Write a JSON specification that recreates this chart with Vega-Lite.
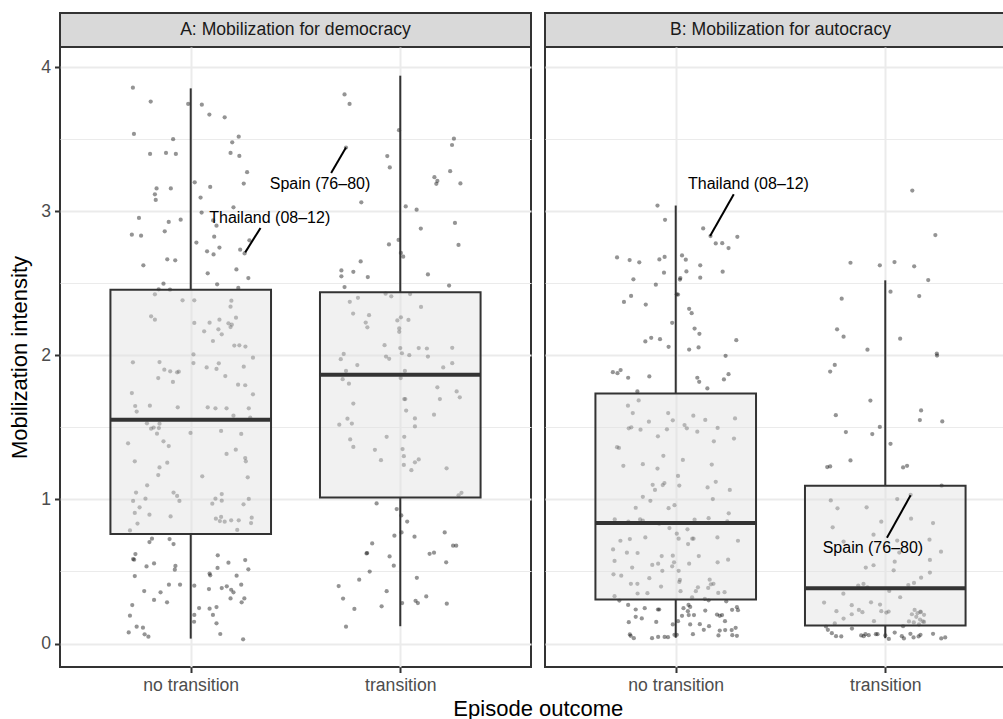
{
  "$schema": "https://vega.github.io/schema/vega-lite/v6.json",
  "background": "white",
  "padding": {"left": 7, "top": 12, "right": 0, "bottom": 0},
  "autosize": {"type": "pad"},
  "title": {
    "text": "Episode outcome",
    "orient": "bottom",
    "anchor": "middle",
    "dx": 26,
    "font": "Liberation Sans",
    "fontSize": 22,
    "fontWeight": "normal",
    "color": "black",
    "offset": 4
  },
  "datasets": {
    "strips": [
      {"panel": "A", "label": "A: Mobilization for democracy"},
      {"panel": "B", "label": "B: Mobilization for autocracy"}
    ],
    "boxes": [
      {"panel": "A", "x": 1, "lower": 0.034, "q1": 0.760, "median": 1.553, "q3": 2.455, "upper": 3.852},
      {"panel": "A", "x": 2, "lower": 0.120, "q1": 1.013, "median": 1.865, "q3": 2.437, "upper": 3.940},
      {"panel": "B", "x": 1, "lower": 0.040, "q1": 0.305, "median": 0.836, "q3": 1.735, "upper": 3.039},
      {"panel": "B", "x": 2, "lower": 0.037, "q1": 0.125, "median": 0.383, "q3": 1.095, "upper": 2.520}
    ],
    "labels": [
      {"panel": "A", "label": "Thailand (08–12)", "tx": 1.377, "ty": 2.953, "lx": 1.333, "ly": 2.883, "px": 1.260, "py": 2.714},
      {"panel": "A", "label": "Spain (76–80)", "tx": 1.617, "ty": 3.187, "lx": 1.670, "ly": 3.264, "px": 1.741, "py": 3.441},
      {"panel": "B", "label": "Thailand (08–12)", "tx": 1.347, "ty": 3.185, "lx": 1.277, "ly": 3.117, "px": 1.164, "py": 2.828},
      {"panel": "B", "label": "Spain (76–80)", "tx": 1.941, "ty": 0.665, "lx": 2.008, "ly": 0.734, "px": 2.121, "py": 1.028}
    ],
    "points": [
      {"panel":"A","x":0.724,"y":3.857},{"panel":"A","x":0.809,"y":3.760},{"panel":"A","x":0.988,"y":3.744},{"panel":"A","x":1.053,"y":3.739},
      {"panel":"A","x":1.089,"y":3.670},{"panel":"A","x":1.162,"y":3.651},{"panel":"A","x":0.729,"y":3.536},{"panel":"A","x":0.916,"y":3.499},
      {"panel":"A","x":1.229,"y":3.517},{"panel":"A","x":1.198,"y":3.478},{"panel":"A","x":0.806,"y":3.397},{"panel":"A","x":0.882,"y":3.404},
      {"panel":"A","x":0.929,"y":3.397},{"panel":"A","x":1.190,"y":3.404},{"panel":"A","x":1.232,"y":3.383},{"panel":"A","x":1.269,"y":3.270},
      {"panel":"A","x":1.253,"y":3.191},{"panel":"A","x":1.019,"y":3.200},{"panel":"A","x":1.093,"y":3.168},{"panel":"A","x":0.837,"y":3.158},
      {"panel":"A","x":0.905,"y":3.158},{"panel":"A","x":0.829,"y":3.117},{"panel":"A","x":0.833,"y":3.078},{"panel":"A","x":1.047,"y":3.094},
      {"panel":"A","x":1.204,"y":3.027},{"panel":"A","x":1.052,"y":2.990},{"panel":"A","x":0.753,"y":2.953},{"panel":"A","x":0.895,"y":2.925},
      {"panel":"A","x":0.952,"y":2.941},{"panel":"A","x":1.107,"y":2.936},{"panel":"A","x":1.123,"y":2.899},{"panel":"A","x":0.719,"y":2.837},
      {"panel":"A","x":0.763,"y":2.830},{"panel":"A","x":0.876,"y":2.860},{"panel":"A","x":1.112,"y":2.823},{"panel":"A","x":1.027,"y":2.782},
      {"panel":"A","x":1.280,"y":2.798},{"panel":"A","x":1.137,"y":2.747},{"panel":"A","x":1.078,"y":2.721},{"panel":"A","x":1.109,"y":2.700},
      {"panel":"A","x":1.236,"y":2.733},{"panel":"A","x":1.257,"y":2.707},{"panel":"A","x":0.774,"y":2.624},{"panel":"A","x":0.888,"y":2.666},
      {"panel":"A","x":0.926,"y":2.659},{"panel":"A","x":1.081,"y":2.569},{"panel":"A","x":1.218,"y":2.596},{"panel":"A","x":1.275,"y":2.536},
      {"panel":"A","x":0.870,"y":2.497},{"panel":"A","x":1.126,"y":2.492},{"panel":"A","x":1.227,"y":2.467},{"panel":"A","x":0.847,"y":2.458},
      {"panel":"A","x":0.901,"y":2.455},{"panel":"A","x":0.829,"y":2.423},{"panel":"A","x":0.961,"y":2.381},{"panel":"A","x":1.017,"y":2.381},
      {"panel":"A","x":1.194,"y":2.379},{"panel":"A","x":1.190,"y":2.337},{"panel":"A","x":0.811,"y":2.270},{"panel":"A","x":0.829,"y":2.247},
      {"panel":"A","x":1.216,"y":2.261},{"panel":"A","x":1.017,"y":2.224},{"panel":"A","x":1.090,"y":2.226},{"panel":"A","x":1.137,"y":2.247},
      {"panel":"A","x":1.180,"y":2.222},{"panel":"A","x":1.196,"y":2.212},{"panel":"A","x":1.190,"y":2.196},{"panel":"A","x":1.064,"y":2.166},
      {"panel":"A","x":1.132,"y":2.180},{"panel":"A","x":1.148,"y":2.145},{"panel":"A","x":1.106,"y":2.099},{"panel":"A","x":1.208,"y":2.067},
      {"panel":"A","x":1.232,"y":2.069},{"panel":"A","x":1.261,"y":2.060},{"panel":"A","x":1.013,"y":2.006},{"panel":"A","x":1.297,"y":1.983},
      {"panel":"A","x":0.724,"y":1.951},{"panel":"A","x":0.851,"y":1.953},{"panel":"A","x":1.013,"y":1.946},{"panel":"A","x":1.134,"y":1.944},
      {"panel":"A","x":1.076,"y":1.916},{"panel":"A","x":1.123,"y":1.905},{"panel":"A","x":1.253,"y":1.921},{"panel":"A","x":0.874,"y":1.900},
      {"panel":"A","x":0.902,"y":1.889},{"panel":"A","x":0.935,"y":1.882},{"panel":"A","x":0.943,"y":1.886},{"panel":"A","x":0.845,"y":1.842},
      {"panel":"A","x":0.915,"y":1.815},{"panel":"A","x":1.165,"y":1.856},{"panel":"A","x":1.226,"y":1.796},{"panel":"A","x":1.260,"y":1.792},
      {"panel":"A","x":1.297,"y":1.729},{"panel":"A","x":0.719,"y":1.738},{"panel":"A","x":0.735,"y":1.648},{"panel":"A","x":0.742,"y":1.609},
      {"panel":"A","x":0.805,"y":1.650},{"panel":"A","x":0.938,"y":1.639},{"panel":"A","x":1.081,"y":1.639},{"panel":"A","x":1.118,"y":1.632},
      {"panel":"A","x":1.171,"y":1.632},{"panel":"A","x":1.277,"y":1.632},{"panel":"A","x":1.204,"y":1.581},{"panel":"A","x":1.284,"y":1.567},
      {"panel":"A","x":0.791,"y":1.528},{"panel":"A","x":0.811,"y":1.491},{"panel":"A","x":0.823,"y":1.498},{"panel":"A","x":0.851,"y":1.525},
      {"panel":"A","x":0.848,"y":1.495},{"panel":"A","x":0.839,"y":1.456},{"panel":"A","x":0.999,"y":1.461},{"panel":"A","x":1.145,"y":1.475},
      {"panel":"A","x":1.241,"y":1.454},{"panel":"A","x":0.701,"y":1.389},{"panel":"A","x":0.870,"y":1.403},{"panel":"A","x":0.895,"y":1.370},
      {"panel":"A","x":1.171,"y":1.315},{"panel":"A","x":1.215,"y":1.345},{"panel":"A","x":1.260,"y":1.287},{"panel":"A","x":1.263,"y":1.264},
      {"panel":"A","x":0.733,"y":1.264},{"panel":"A","x":0.888,"y":1.255},{"panel":"A","x":0.851,"y":1.222},{"panel":"A","x":0.845,"y":1.169},
      {"panel":"A","x":1.055,"y":1.160},{"panel":"A","x":1.272,"y":1.153},{"panel":"A","x":0.792,"y":1.098},{"panel":"A","x":0.739,"y":1.047},
      {"panel":"A","x":0.918,"y":1.047},{"panel":"A","x":0.935,"y":1.024},{"panel":"A","x":0.946,"y":0.989},{"panel":"A","x":0.725,"y":0.989},
      {"panel":"A","x":0.784,"y":1.005},{"panel":"A","x":0.756,"y":0.945},{"panel":"A","x":0.733,"y":0.906},{"panel":"A","x":0.803,"y":0.894},
      {"panel":"A","x":0.904,"y":0.882},{"panel":"A","x":1.118,"y":1.005},{"panel":"A","x":1.148,"y":1.037},{"panel":"A","x":1.148,"y":0.991},
      {"panel":"A","x":1.103,"y":0.970},{"panel":"A","x":1.252,"y":0.966},{"panel":"A","x":1.277,"y":1.003},{"panel":"A","x":1.120,"y":0.866},
      {"panel":"A","x":1.139,"y":0.850},{"panel":"A","x":1.145,"y":0.878},{"panel":"A","x":1.162,"y":0.845},{"panel":"A","x":1.193,"y":0.855},
      {"panel":"A","x":1.229,"y":0.855},{"panel":"A","x":1.291,"y":0.873},{"panel":"A","x":1.288,"y":0.836},{"panel":"A","x":0.746,"y":0.832},
      {"panel":"A","x":0.710,"y":0.785},{"panel":"A","x":1.222,"y":0.788},{"panel":"A","x":0.803,"y":0.704},{"panel":"A","x":0.815,"y":0.727},
      {"panel":"A","x":0.899,"y":0.725},{"panel":"A","x":0.918,"y":0.690},{"panel":"A","x":0.736,"y":0.621},{"panel":"A","x":0.725,"y":0.586},
      {"panel":"A","x":0.730,"y":0.582},{"panel":"A","x":0.825,"y":0.556},{"panel":"A","x":0.789,"y":0.535},{"panel":"A","x":0.927,"y":0.538},
      {"panel":"A","x":0.924,"y":0.512},{"panel":"A","x":0.733,"y":0.468},{"panel":"A","x":1.129,"y":0.612},{"panel":"A","x":1.180,"y":0.561},
      {"panel":"A","x":1.260,"y":0.579},{"panel":"A","x":1.128,"y":0.524},{"panel":"A","x":1.275,"y":0.515},{"panel":"A","x":1.090,"y":0.485},
      {"panel":"A","x":1.093,"y":0.473},{"panel":"A","x":1.219,"y":0.471},{"panel":"A","x":0.896,"y":0.408},{"panel":"A","x":0.949,"y":0.408},
      {"panel":"A","x":1.017,"y":0.401},{"panel":"A","x":1.087,"y":0.378},{"panel":"A","x":1.148,"y":0.385},{"panel":"A","x":1.172,"y":0.397},
      {"panel":"A","x":1.193,"y":0.373},{"panel":"A","x":1.204,"y":0.355},{"panel":"A","x":1.241,"y":0.408},{"panel":"A","x":0.778,"y":0.364},
      {"panel":"A","x":0.856,"y":0.355},{"panel":"A","x":0.825,"y":0.302},{"panel":"A","x":0.887,"y":0.286},{"panel":"A","x":1.190,"y":0.313},
      {"panel":"A","x":1.256,"y":0.313},{"panel":"A","x":1.243,"y":0.286},{"panel":"A","x":0.721,"y":0.267},{"panel":"A","x":0.710,"y":0.193},
      {"panel":"A","x":1.040,"y":0.246},{"panel":"A","x":1.090,"y":0.242},{"panel":"A","x":1.123,"y":0.253},{"panel":"A","x":1.017,"y":0.198},
      {"panel":"A","x":1.016,"y":0.151},{"panel":"A","x":1.106,"y":0.198},{"panel":"A","x":1.123,"y":0.140},{"panel":"A","x":0.742,"y":0.117},
      {"panel":"A","x":0.772,"y":0.110},{"panel":"A","x":0.704,"y":0.077},{"panel":"A","x":0.780,"y":0.064},{"panel":"A","x":0.798,"y":0.047},
      {"panel":"A","x":1.141,"y":0.066},{"panel":"A","x":1.250,"y":0.029},

      {"panel":"A","x":1.734,"y":3.810},{"panel":"A","x":1.758,"y":3.744},{"panel":"A","x":1.994,"y":3.562},{"panel":"A","x":1.741,"y":3.441},
      {"panel":"A","x":1.938,"y":3.382},{"panel":"A","x":1.950,"y":3.303},{"panel":"A","x":2.256,"y":3.503},{"panel":"A","x":2.247,"y":3.459},
      {"panel":"A","x":2.238,"y":3.277},{"panel":"A","x":2.163,"y":3.236},{"panel":"A","x":2.177,"y":3.210},{"panel":"A","x":2.172,"y":3.190},
      {"panel":"A","x":2.287,"y":3.192},{"panel":"A","x":1.814,"y":3.061},{"panel":"A","x":2.026,"y":3.033},{"panel":"A","x":2.078,"y":3.010},
      {"panel":"A","x":2.098,"y":2.879},{"panel":"A","x":2.261,"y":2.918},{"panel":"A","x":2.278,"y":2.766},{"panel":"A","x":1.946,"y":2.769},
      {"panel":"A","x":1.992,"y":2.800},{"panel":"A","x":2.003,"y":2.710},{"panel":"A","x":2.014,"y":2.684},{"panel":"A","x":1.811,"y":2.651},
      {"panel":"A","x":1.719,"y":2.589},{"panel":"A","x":1.719,"y":2.548},{"panel":"A","x":1.776,"y":2.579},{"panel":"A","x":1.845,"y":2.543},
      {"panel":"A","x":2.132,"y":2.561},{"panel":"A","x":2.233,"y":2.484},{"panel":"A","x":1.734,"y":2.473},{"panel":"A","x":1.930,"y":2.427},
      {"panel":"A","x":1.957,"y":2.409},{"panel":"A","x":2.047,"y":2.425},{"panel":"A","x":1.759,"y":2.371},{"panel":"A","x":1.798,"y":2.399},
      {"panel":"A","x":2.099,"y":2.335},{"panel":"A","x":1.775,"y":2.289},{"panel":"A","x":1.851,"y":2.278},{"panel":"A","x":1.835,"y":2.227},
      {"panel":"A","x":1.843,"y":2.194},{"panel":"A","x":1.986,"y":2.242},{"panel":"A","x":2.003,"y":2.263},{"panel":"A","x":2.039,"y":2.245},
      {"panel":"A","x":1.995,"y":2.186},{"panel":"A","x":1.995,"y":2.163},{"panel":"A","x":1.925,"y":2.070},{"panel":"A","x":2.000,"y":2.050},
      {"panel":"A","x":2.008,"y":2.014},{"panel":"A","x":2.043,"y":2.001},{"panel":"A","x":2.088,"y":2.050},{"panel":"A","x":2.127,"y":2.047},
      {"panel":"A","x":2.132,"y":1.991},{"panel":"A","x":2.248,"y":2.052},{"panel":"A","x":2.248,"y":1.945},{"panel":"A","x":1.932,"y":1.991},
      {"panel":"A","x":1.947,"y":1.975},{"panel":"A","x":1.730,"y":2.009},{"panel":"A","x":1.716,"y":1.973},{"panel":"A","x":1.795,"y":1.932},
      {"panel":"A","x":1.741,"y":1.891},{"panel":"A","x":2.205,"y":1.916},{"panel":"A","x":2.022,"y":1.891},{"panel":"A","x":1.725,"y":1.834},
      {"panel":"A","x":1.755,"y":1.803},{"panel":"A","x":2.002,"y":1.842},{"panel":"A","x":2.177,"y":1.778},{"panel":"A","x":2.269,"y":1.749},
      {"panel":"A","x":2.284,"y":1.708},{"panel":"A","x":2.189,"y":1.696},{"panel":"A","x":2.019,"y":1.696},{"panel":"A","x":2.024,"y":1.696},
      {"panel":"A","x":2.028,"y":1.616},{"panel":"A","x":1.776,"y":1.665},{"panel":"A","x":2.161,"y":1.588},{"panel":"A","x":2.070,"y":1.562},
      {"panel":"A","x":2.070,"y":1.506},{"panel":"A","x":1.748,"y":1.560},{"panel":"A","x":1.769,"y":1.526},{"panel":"A","x":1.709,"y":1.518},
      {"panel":"A","x":1.761,"y":1.416},{"panel":"A","x":1.776,"y":1.364},{"panel":"A","x":1.935,"y":1.434},{"panel":"A","x":2.019,"y":1.434},
      {"panel":"A","x":1.879,"y":1.344},{"panel":"A","x":1.908,"y":1.272},{"panel":"A","x":2.011,"y":1.349},{"panel":"A","x":2.017,"y":1.300},
      {"panel":"A","x":2.017,"y":1.239},{"panel":"A","x":2.070,"y":1.257},{"panel":"A","x":2.088,"y":1.277},{"panel":"A","x":2.053,"y":1.203},
      {"panel":"A","x":2.221,"y":1.216},{"panel":"A","x":2.278,"y":1.028},{"panel":"A","x":2.292,"y":1.046},{"panel":"A","x":1.887,"y":0.972},
      {"panel":"A","x":1.983,"y":0.933},{"panel":"A","x":2.005,"y":0.889},{"panel":"A","x":2.033,"y":0.846},{"panel":"A","x":2.006,"y":0.771},
      {"panel":"A","x":1.972,"y":0.748},{"panel":"A","x":2.068,"y":0.741},{"panel":"A","x":2.212,"y":0.771},{"panel":"A","x":1.866,"y":0.694},
      {"panel":"A","x":1.839,"y":0.625},{"panel":"A","x":1.842,"y":0.628},{"panel":"A","x":1.949,"y":0.604},{"panel":"A","x":1.969,"y":0.540},
      {"panel":"A","x":1.854,"y":0.499},{"panel":"A","x":2.140,"y":0.622},{"panel":"A","x":2.161,"y":0.630},{"panel":"A","x":2.252,"y":0.679},
      {"panel":"A","x":2.267,"y":0.679},{"panel":"A","x":2.219,"y":0.563},{"panel":"A","x":2.079,"y":0.456},{"panel":"A","x":1.706,"y":0.399},
      {"panel":"A","x":1.804,"y":0.443},{"panel":"A","x":1.727,"y":0.312},{"panel":"A","x":1.781,"y":0.240},{"panel":"A","x":1.935,"y":0.363},
      {"panel":"A","x":1.911,"y":0.258},{"panel":"A","x":2.009,"y":0.281},{"panel":"A","x":2.073,"y":0.296},{"panel":"A","x":2.084,"y":0.281},
      {"panel":"A","x":2.124,"y":0.327},{"panel":"A","x":2.222,"y":0.276},{"panel":"A","x":1.741,"y":0.117},

      {"panel":"B","x":0.913,"y":3.039},{"panel":"B","x":0.949,"y":2.940},{"panel":"B","x":1.131,"y":2.880},{"panel":"B","x":1.166,"y":2.827},
      {"panel":"B","x":1.191,"y":2.776},{"panel":"B","x":1.222,"y":2.778},{"panel":"B","x":1.252,"y":2.744},{"panel":"B","x":1.294,"y":2.822},
      {"panel":"B","x":0.720,"y":2.679},{"panel":"B","x":0.780,"y":2.661},{"panel":"B","x":0.826,"y":2.645},{"panel":"B","x":0.922,"y":2.665},
      {"panel":"B","x":0.947,"y":2.682},{"panel":"B","x":1.030,"y":2.693},{"panel":"B","x":1.048,"y":2.663},{"panel":"B","x":1.117,"y":2.624},
      {"panel":"B","x":0.944,"y":2.573},{"panel":"B","x":1.051,"y":2.582},{"panel":"B","x":1.022,"y":2.536},{"panel":"B","x":1.020,"y":2.525},
      {"panel":"B","x":1.117,"y":2.538},{"panel":"B","x":1.224,"y":2.580},{"panel":"B","x":0.798,"y":2.527},{"panel":"B","x":0.905,"y":2.490},
      {"panel":"B","x":1.005,"y":2.423},{"panel":"B","x":1.011,"y":2.421},{"panel":"B","x":0.787,"y":2.412},{"panel":"B","x":0.753,"y":2.370},
      {"panel":"B","x":0.857,"y":2.352},{"panel":"B","x":1.064,"y":2.322},{"panel":"B","x":1.076,"y":2.292},{"panel":"B","x":0.983,"y":2.225},
      {"panel":"B","x":1.090,"y":2.185},{"panel":"B","x":1.113,"y":2.149},{"panel":"B","x":0.855,"y":2.096},{"panel":"B","x":0.883,"y":2.121},
      {"panel":"B","x":0.925,"y":2.112},{"panel":"B","x":0.966,"y":2.059},{"panel":"B","x":1.064,"y":2.040},{"panel":"B","x":1.109,"y":2.054},
      {"panel":"B","x":1.289,"y":2.105},{"panel":"B","x":1.238,"y":1.996},{"panel":"B","x":0.700,"y":1.883},{"panel":"B","x":0.722,"y":1.876},
      {"panel":"B","x":0.737,"y":1.897},{"panel":"B","x":0.773,"y":1.844},{"panel":"B","x":0.874,"y":1.853},{"panel":"B","x":1.103,"y":1.844},
      {"panel":"B","x":1.112,"y":1.816},{"panel":"B","x":1.230,"y":1.832},{"panel":"B","x":1.252,"y":1.869},{"panel":"B","x":1.151,"y":1.770},
      {"panel":"B","x":0.817,"y":1.749},{"panel":"B","x":0.823,"y":1.687},{"panel":"B","x":0.772,"y":1.650},{"panel":"B","x":0.795,"y":1.599},
      {"panel":"B","x":0.964,"y":1.599},{"panel":"B","x":0.872,"y":1.539},{"panel":"B","x":0.986,"y":1.549},{"panel":"B","x":1.084,"y":1.581},
      {"panel":"B","x":1.141,"y":1.551},{"panel":"B","x":1.283,"y":1.562},{"panel":"B","x":0.776,"y":1.493},{"panel":"B","x":0.788,"y":1.500},
      {"panel":"B","x":0.832,"y":1.484},{"panel":"B","x":0.958,"y":1.486},{"panel":"B","x":1.042,"y":1.516},{"panel":"B","x":1.053,"y":1.493},
      {"panel":"B","x":1.103,"y":1.470},{"panel":"B","x":1.200,"y":1.496},{"panel":"B","x":0.915,"y":1.438},{"panel":"B","x":1.182,"y":1.403},
      {"panel":"B","x":1.278,"y":1.422},{"panel":"B","x":0.720,"y":1.362},{"panel":"B","x":0.729,"y":1.357},{"panel":"B","x":0.750,"y":1.233},
      {"panel":"B","x":0.843,"y":1.244},{"panel":"B","x":0.941,"y":1.302},{"panel":"B","x":0.913,"y":1.214},{"panel":"B","x":1.034,"y":1.274},
      {"panel":"B","x":1.172,"y":1.242},{"panel":"B","x":1.011,"y":1.163},{"panel":"B","x":0.890,"y":1.101},{"panel":"B","x":0.901,"y":1.066},
      {"panel":"B","x":0.938,"y":1.099},{"panel":"B","x":0.946,"y":1.113},{"panel":"B","x":1.017,"y":1.096},{"panel":"B","x":1.152,"y":1.083},
      {"panel":"B","x":1.191,"y":1.122},{"panel":"B","x":1.258,"y":1.066},{"panel":"B","x":0.843,"y":1.018},{"panel":"B","x":0.879,"y":0.990},
      {"panel":"B","x":1.177,"y":1.002},{"panel":"B","x":0.809,"y":0.942},{"panel":"B","x":0.966,"y":0.939},{"panel":"B","x":0.994,"y":0.960},
      {"panel":"B","x":1.253,"y":0.903},{"panel":"B","x":0.709,"y":0.861},{"panel":"B","x":0.774,"y":0.845},{"panel":"B","x":0.830,"y":0.861},
      {"panel":"B","x":0.843,"y":0.852},{"panel":"B","x":0.921,"y":0.831},{"panel":"B","x":1.090,"y":0.859},{"panel":"B","x":1.157,"y":0.870},
      {"panel":"B","x":1.246,"y":0.847},{"panel":"B","x":0.970,"y":0.801},{"panel":"B","x":1.005,"y":0.762},{"panel":"B","x":1.014,"y":0.727},
      {"panel":"B","x":1.056,"y":0.792},{"panel":"B","x":0.736,"y":0.713},{"panel":"B","x":0.781,"y":0.725},{"panel":"B","x":0.855,"y":0.736},
      {"panel":"B","x":1.079,"y":0.727},{"panel":"B","x":1.085,"y":0.727},{"panel":"B","x":1.059,"y":0.690},{"panel":"B","x":1.199,"y":0.736},
      {"panel":"B","x":1.297,"y":0.713},{"panel":"B","x":0.701,"y":0.653},{"panel":"B","x":0.767,"y":0.630},{"panel":"B","x":0.818,"y":0.628},
      {"panel":"B","x":0.708,"y":0.573},{"panel":"B","x":0.792,"y":0.527},{"panel":"B","x":0.933,"y":0.607},{"panel":"B","x":0.888,"y":0.545},
      {"panel":"B","x":0.916,"y":0.554},{"panel":"B","x":0.936,"y":0.504},{"panel":"B","x":0.986,"y":0.609},{"panel":"B","x":0.992,"y":0.563},
      {"panel":"B","x":0.983,"y":0.536},{"panel":"B","x":1.014,"y":0.504},{"panel":"B","x":1.064,"y":0.554},{"panel":"B","x":1.110,"y":0.607},
      {"panel":"B","x":1.200,"y":0.563},{"panel":"B","x":1.250,"y":0.582},{"panel":"B","x":0.703,"y":0.480},{"panel":"B","x":0.740,"y":0.471},
      {"panel":"B","x":0.874,"y":0.453},{"panel":"B","x":0.786,"y":0.414},{"panel":"B","x":0.817,"y":0.414},{"panel":"B","x":0.930,"y":0.395},
      {"panel":"B","x":1.020,"y":0.441},{"panel":"B","x":1.017,"y":0.427},{"panel":"B","x":1.162,"y":0.443},{"panel":"B","x":1.168,"y":0.411},
      {"panel":"B","x":1.180,"y":0.414},{"panel":"B","x":1.155,"y":0.386},{"panel":"B","x":1.106,"y":0.390},{"panel":"B","x":1.096,"y":0.363},
      {"panel":"B","x":0.818,"y":0.347},{"panel":"B","x":0.865,"y":0.349},{"panel":"B","x":1.023,"y":0.363},{"panel":"B","x":1.203,"y":0.351},
      {"panel":"B","x":1.233,"y":0.356},{"panel":"B","x":0.708,"y":0.328},{"panel":"B","x":1.078,"y":0.321},{"panel":"B","x":1.139,"y":0.310},
      {"panel":"B","x":1.157,"y":0.300},{"panel":"B","x":0.731,"y":0.298},{"panel":"B","x":0.773,"y":0.268},{"panel":"B","x":0.809,"y":0.236},
      {"panel":"B","x":0.852,"y":0.245},{"panel":"B","x":0.915,"y":0.236},{"panel":"B","x":0.921,"y":0.236},{"panel":"B","x":1.037,"y":0.245},
      {"panel":"B","x":1.061,"y":0.268},{"panel":"B","x":1.069,"y":0.254},{"panel":"B","x":1.058,"y":0.224},{"panel":"B","x":1.141,"y":0.229},
      {"panel":"B","x":1.241,"y":0.293},{"panel":"B","x":1.269,"y":0.234},{"panel":"B","x":1.292,"y":0.252},{"panel":"B","x":1.297,"y":0.231},
      {"panel":"B","x":0.809,"y":0.185},{"panel":"B","x":0.838,"y":0.174},{"panel":"B","x":0.776,"y":0.148},{"panel":"B","x":0.907,"y":0.150},
      {"panel":"B","x":1.030,"y":0.192},{"panel":"B","x":1.062,"y":0.197},{"panel":"B","x":1.087,"y":0.197},{"panel":"B","x":1.197,"y":0.201},
      {"panel":"B","x":1.210,"y":0.192},{"panel":"B","x":1.221,"y":0.197},{"panel":"B","x":1.011,"y":0.155},{"panel":"B","x":0.986,"y":0.132},
      {"panel":"B","x":1.069,"y":0.132},{"panel":"B","x":1.115,"y":0.134},{"panel":"B","x":1.159,"y":0.120},{"panel":"B","x":1.134,"y":0.095},
      {"panel":"B","x":1.235,"y":0.155},{"panel":"B","x":1.210,"y":0.090},{"panel":"B","x":1.236,"y":0.093},{"panel":"B","x":1.267,"y":0.093},
      {"panel":"B","x":1.286,"y":0.109},{"panel":"B","x":0.781,"y":0.063},{"panel":"B","x":0.785,"y":0.053},{"panel":"B","x":0.800,"y":0.037},
      {"panel":"B","x":0.887,"y":0.037},{"panel":"B","x":0.916,"y":0.046},{"panel":"B","x":0.947,"y":0.046},{"panel":"B","x":0.963,"y":0.044},
      {"panel":"B","x":0.994,"y":0.060},{"panel":"B","x":1.005,"y":0.060},{"panel":"B","x":1.082,"y":0.065},{"panel":"B","x":1.204,"y":0.056},
      {"panel":"B","x":1.270,"y":0.058},{"panel":"B","x":1.292,"y":0.053},

      {"panel":"B","x":2.129,"y":3.143},{"panel":"B","x":2.239,"y":2.834},{"panel":"B","x":1.834,"y":2.642},{"panel":"B","x":1.974,"y":2.624},
      {"panel":"B","x":2.044,"y":2.647},{"panel":"B","x":2.138,"y":2.617},{"panel":"B","x":2.205,"y":2.522},{"panel":"B","x":2.025,"y":2.441},
      {"panel":"B","x":2.162,"y":2.411},{"panel":"B","x":1.792,"y":2.393},{"panel":"B","x":1.770,"y":2.180},{"panel":"B","x":1.801,"y":2.129},
      {"panel":"B","x":2.071,"y":2.115},{"panel":"B","x":1.915,"y":2.039},{"panel":"B","x":2.246,"y":2.012},{"panel":"B","x":2.247,"y":1.998},
      {"panel":"B","x":1.759,"y":1.933},{"panel":"B","x":1.737,"y":1.887},{"panel":"B","x":1.929,"y":1.686},{"panel":"B","x":2.171,"y":1.617},
      {"panel":"B","x":2.165,"y":1.550},{"panel":"B","x":2.272,"y":1.541},{"panel":"B","x":1.764,"y":1.584},{"panel":"B","x":1.974,"y":1.503},
      {"panel":"B","x":1.812,"y":1.467},{"panel":"B","x":1.938,"y":1.453},{"panel":"B","x":2.025,"y":1.386},{"panel":"B","x":1.723,"y":1.224},
      {"panel":"B","x":1.737,"y":1.229},{"panel":"B","x":1.834,"y":1.270},{"panel":"B","x":2.085,"y":1.222},{"panel":"B","x":2.104,"y":1.233},
      {"panel":"B","x":2.269,"y":1.095},{"panel":"B","x":2.121,"y":1.032},{"panel":"B","x":1.740,"y":0.993},{"panel":"B","x":1.772,"y":0.938},
      {"panel":"B","x":1.911,"y":0.945},{"panel":"B","x":2.057,"y":1.002},{"panel":"B","x":1.981,"y":0.845},{"panel":"B","x":2.123,"y":0.866},
      {"panel":"B","x":2.228,"y":0.836},{"panel":"B","x":1.749,"y":0.806},{"panel":"B","x":1.944,"y":0.755},{"panel":"B","x":2.057,"y":0.714},
      {"panel":"B","x":1.801,"y":0.707},{"panel":"B","x":2.211,"y":0.720},{"panel":"B","x":2.266,"y":0.637},{"panel":"B","x":2.067,"y":0.631},
      {"panel":"B","x":2.045,"y":0.568},{"panel":"B","x":2.213,"y":0.580},{"panel":"B","x":1.907,"y":0.527},{"panel":"B","x":1.944,"y":0.543},
      {"panel":"B","x":2.040,"y":0.508},{"panel":"B","x":2.171,"y":0.457},{"panel":"B","x":2.213,"y":0.492},{"panel":"B","x":1.871,"y":0.402},
      {"panel":"B","x":1.896,"y":0.413},{"panel":"B","x":1.915,"y":0.390},{"panel":"B","x":2.110,"y":0.406},{"panel":"B","x":2.137,"y":0.420},
      {"panel":"B","x":1.800,"y":0.346},{"panel":"B","x":2.019,"y":0.365},{"panel":"B","x":2.071,"y":0.321},{"panel":"B","x":1.708,"y":0.284},
      {"panel":"B","x":1.840,"y":0.266},{"panel":"B","x":1.932,"y":0.286},{"panel":"B","x":1.975,"y":0.270},{"panel":"B","x":1.767,"y":0.224},
      {"panel":"B","x":1.874,"y":0.233},{"panel":"B","x":1.891,"y":0.217},{"panel":"B","x":1.981,"y":0.224},{"panel":"B","x":2.005,"y":0.215},
      {"panel":"B","x":2.016,"y":0.222},{"panel":"B","x":1.840,"y":0.203},{"panel":"B","x":1.801,"y":0.173},{"panel":"B","x":1.946,"y":0.155},
      {"panel":"B","x":2.140,"y":0.233},{"panel":"B","x":2.168,"y":0.222},{"panel":"B","x":2.185,"y":0.199},{"panel":"B","x":2.127,"y":0.203},
      {"panel":"B","x":2.148,"y":0.185},{"panel":"B","x":2.166,"y":0.166},{"panel":"B","x":2.179,"y":0.153},{"panel":"B","x":2.113,"y":0.153},
      {"panel":"B","x":2.136,"y":0.146},{"panel":"B","x":2.161,"y":0.132},{"panel":"B","x":2.169,"y":0.217},{"panel":"B","x":2.154,"y":0.210},
      {"panel":"B","x":2.185,"y":0.150},{"panel":"B","x":1.759,"y":0.139},{"panel":"B","x":2.085,"y":0.120},{"panel":"B","x":1.717,"y":0.118},
      {"panel":"B","x":1.726,"y":0.095},{"panel":"B","x":1.745,"y":0.072},{"panel":"B","x":1.765,"y":0.051},{"panel":"B","x":1.790,"y":0.049},
      {"panel":"B","x":1.841,"y":0.104},{"panel":"B","x":1.885,"y":0.056},{"panel":"B","x":1.897,"y":0.051},{"panel":"B","x":1.921,"y":0.058},
      {"panel":"B","x":1.905,"y":0.065},{"panel":"B","x":1.955,"y":0.065},{"panel":"B","x":1.963,"y":0.065},{"panel":"B","x":2.000,"y":0.056},
      {"panel":"B","x":2.017,"y":0.032},{"panel":"B","x":2.045,"y":0.076},{"panel":"B","x":2.079,"y":0.051},{"panel":"B","x":2.089,"y":0.035},
      {"panel":"B","x":2.120,"y":0.067},{"panel":"B","x":2.135,"y":0.042},{"panel":"B","x":2.159,"y":0.049},{"panel":"B","x":2.168,"y":0.060},
      {"panel":"B","x":2.228,"y":0.067},{"panel":"B","x":2.267,"y":0.035},{"panel":"B","x":2.286,"y":0.042}
    ]
  },
  "spacing": 12,
  "hconcat": [
    {
      "spacing": 0,
      "bounds": "flush",
      "vconcat": [
        {
          "width": 471,
          "height": 34,
          "view": {"fill": "#D9D9D9", "stroke": "#333333", "strokeWidth": 2},
          "data": {"name": "strips"},
          "transform": [{"filter": "datum.panel === 'A'"}],
          "mark": {"type": "text", "font": "Liberation Sans", "fontSize": 17.6, "color": "#1A1A1A", "baseline": "middle", "align": "center"},
          "encoding": {"text": {"field": "label", "type": "nominal"}}
        },
        {
          "width": 471,
          "height": 620,
          "view": {"stroke": "#333333", "strokeWidth": 2},
          "layer": [
            {
              "data": {"name": "points"},
              "transform": [{"filter": "datum.panel === 'A'"}],
              "mark": {"type": "circle", "size": 18, "color": "black", "opacity": 0.42},
              "encoding": {
                "x": {
                  "field": "x", "type": "quantitative",
                  "scale": {"domain": [0.4, 2.6], "nice": false, "zero": false},
                  "axis": {"title": null, "values": [1, 2], "labelExpr": "datum.value === 1 ? 'no transition' : 'transition'", "gridWidth": 2}
                },
                "y": {
                  "field": "y", "type": "quantitative",
                  "scale": {"domain": [-0.163, 4.139], "nice": false, "zero": false},
                  "axis": {
                    "title": "Mobilization intensity",
                    "titlePadding": 9,
                    "values": [0, 0.5, 1, 1.5, 2, 2.5, 3, 3.5, 4],
                    "labelExpr": "datum.value % 1 === 0 ? '' + datum.value : ''",
                    "gridWidth": {"condition": {"test": "datum.value % 1 !== 0", "value": 1}, "value": 2},
                    "tickOpacity": {"condition": {"test": "datum.value % 1 !== 0", "value": 0}, "value": 1}
                  }
                }
              }
            },
            {
              "data": {"name": "boxes"},
              "transform": [{"filter": "datum.panel === 'A'"}],
              "mark": {"type": "bar", "width": 160.6, "fill": "#E0E0E0", "fillOpacity": 0.45, "stroke": "#333333", "strokeWidth": 2},
              "encoding": {
                "x": {"field": "x", "type": "quantitative"},
                "y": {"field": "q1", "type": "quantitative"},
                "y2": {"field": "q3"}
              }
            },
            {
              "data": {"name": "boxes"},
              "transform": [{"filter": "datum.panel === 'A'"}],
              "mark": {"type": "rule", "color": "#333333", "strokeWidth": 2},
              "encoding": {
                "x": {"field": "x", "type": "quantitative"},
                "y": {"field": "lower", "type": "quantitative"},
                "y2": {"field": "q1"}
              }
            },
            {
              "data": {"name": "boxes"},
              "transform": [{"filter": "datum.panel === 'A'"}],
              "mark": {"type": "rule", "color": "#333333", "strokeWidth": 2},
              "encoding": {
                "x": {"field": "x", "type": "quantitative"},
                "y": {"field": "q3", "type": "quantitative"},
                "y2": {"field": "upper"}
              }
            },
            {
              "data": {"name": "boxes"},
              "transform": [{"filter": "datum.panel === 'A'"}],
              "mark": {"type": "tick", "orient": "horizontal", "size": 160.6, "thickness": 4, "color": "#333333", "opacity": 1},
              "encoding": {
                "x": {"field": "x", "type": "quantitative"},
                "y": {"field": "median", "type": "quantitative"}
              }
            },
            {
              "data": {"name": "labels"},
              "transform": [{"filter": "datum.panel === 'A'"}],
              "mark": {"type": "rule", "color": "black", "strokeWidth": 2},
              "encoding": {
                "x": {"field": "lx", "type": "quantitative"},
                "x2": {"field": "px"},
                "y": {"field": "ly", "type": "quantitative"},
                "y2": {"field": "py"}
              }
            },
            {
              "data": {"name": "labels"},
              "transform": [{"filter": "datum.panel === 'A'"}],
              "mark": {"type": "text", "font": "Liberation Sans", "fontSize": 16, "color": "black", "baseline": "middle", "align": "center"},
              "encoding": {
                "x": {"field": "tx", "type": "quantitative"},
                "y": {"field": "ty", "type": "quantitative"},
                "text": {"field": "label", "type": "nominal"}
              }
            }
          ]
        }
      ]
    },
    {
      "spacing": 0,
      "bounds": "flush",
      "vconcat": [
        {
          "width": 471,
          "height": 34,
          "view": {"fill": "#D9D9D9", "stroke": "#333333", "strokeWidth": 2},
          "data": {"name": "strips"},
          "transform": [{"filter": "datum.panel === 'B'"}],
          "mark": {"type": "text", "font": "Liberation Sans", "fontSize": 17.6, "color": "#1A1A1A", "baseline": "middle", "align": "center"},
          "encoding": {"text": {"field": "label", "type": "nominal"}}
        },
        {
          "width": 471,
          "height": 620,
          "view": {"stroke": "#333333", "strokeWidth": 2},
          "layer": [
            {
              "data": {"name": "points"},
              "transform": [{"filter": "datum.panel === 'B'"}],
              "mark": {"type": "circle", "size": 18, "color": "black", "opacity": 0.42},
              "encoding": {
                "x": {
                  "field": "x", "type": "quantitative",
                  "scale": {"domain": [0.4, 2.6], "nice": false, "zero": false},
                  "axis": {"title": null, "values": [1, 2], "labelExpr": "datum.value === 1 ? 'no transition' : 'transition'", "gridWidth": 2}
                },
                "y": {
                  "field": "y", "type": "quantitative",
                  "scale": {"domain": [-0.163, 4.139], "nice": false, "zero": false},
                  "axis": {
                    "title": null,
                    "labels": false,
                    "ticks": false,
                    "values": [0, 0.5, 1, 1.5, 2, 2.5, 3, 3.5, 4],
                    "gridWidth": {"condition": {"test": "datum.value % 1 !== 0", "value": 1}, "value": 2}
                  }
                }
              }
            },
            {
              "data": {"name": "boxes"},
              "transform": [{"filter": "datum.panel === 'B'"}],
              "mark": {"type": "bar", "width": 160.6, "fill": "#E0E0E0", "fillOpacity": 0.45, "stroke": "#333333", "strokeWidth": 2},
              "encoding": {
                "x": {"field": "x", "type": "quantitative"},
                "y": {"field": "q1", "type": "quantitative"},
                "y2": {"field": "q3"}
              }
            },
            {
              "data": {"name": "boxes"},
              "transform": [{"filter": "datum.panel === 'B'"}],
              "mark": {"type": "rule", "color": "#333333", "strokeWidth": 2},
              "encoding": {
                "x": {"field": "x", "type": "quantitative"},
                "y": {"field": "lower", "type": "quantitative"},
                "y2": {"field": "q1"}
              }
            },
            {
              "data": {"name": "boxes"},
              "transform": [{"filter": "datum.panel === 'B'"}],
              "mark": {"type": "rule", "color": "#333333", "strokeWidth": 2},
              "encoding": {
                "x": {"field": "x", "type": "quantitative"},
                "y": {"field": "q3", "type": "quantitative"},
                "y2": {"field": "upper"}
              }
            },
            {
              "data": {"name": "boxes"},
              "transform": [{"filter": "datum.panel === 'B'"}],
              "mark": {"type": "tick", "orient": "horizontal", "size": 160.6, "thickness": 4, "color": "#333333", "opacity": 1},
              "encoding": {
                "x": {"field": "x", "type": "quantitative"},
                "y": {"field": "median", "type": "quantitative"}
              }
            },
            {
              "data": {"name": "labels"},
              "transform": [{"filter": "datum.panel === 'B'"}],
              "mark": {"type": "rule", "color": "black", "strokeWidth": 2},
              "encoding": {
                "x": {"field": "lx", "type": "quantitative"},
                "x2": {"field": "px"},
                "y": {"field": "ly", "type": "quantitative"},
                "y2": {"field": "py"}
              }
            },
            {
              "data": {"name": "labels"},
              "transform": [{"filter": "datum.panel === 'B'"}],
              "mark": {"type": "text", "font": "Liberation Sans", "fontSize": 16, "color": "black", "baseline": "middle", "align": "center"},
              "encoding": {
                "x": {"field": "tx", "type": "quantitative"},
                "y": {"field": "ty", "type": "quantitative"},
                "text": {"field": "label", "type": "nominal"}
              }
            }
          ]
        }
      ]
    }
  ],
  "config": {
    "font": "Liberation Sans",
    "axis": {
      "labelFont": "Liberation Sans",
      "labelFontSize": 17.6,
      "labelColor": "#4D4D4D",
      "labelPadding": 4,
      "titleFont": "Liberation Sans",
      "titleFontSize": 22,
      "titleFontWeight": "normal",
      "titleColor": "black",
      "domain": false,
      "tickColor": "#333333",
      "tickWidth": 2,
      "tickSize": 5.5,
      "gridColor": "#EBEBEB"
    }
  }
}
